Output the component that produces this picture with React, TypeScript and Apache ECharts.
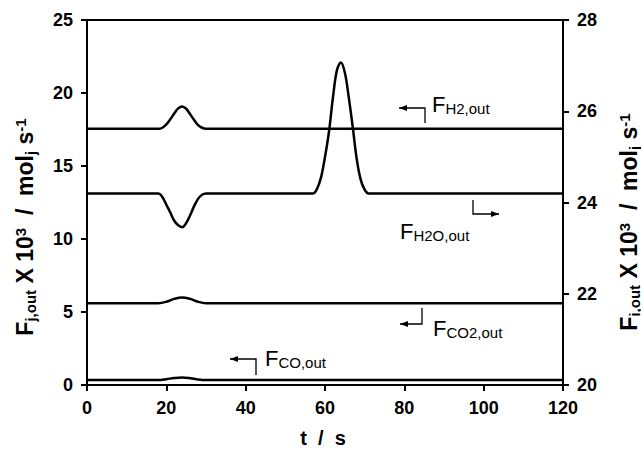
import React, { useEffect, useRef } from "react";
import * as echarts from "echarts";

// time (s) and outlet flows (x10^3 mol/s)
const tH2 = [0, 18, 19, 20, 21, 22, 23, 24, 25, 26, 27, 28, 29, 30, 120];
const vH2 = [17.55, 17.55, 17.62, 17.85, 18.2, 18.6, 18.95, 19.08, 18.92, 18.55, 18.15, 17.8, 17.62, 17.55, 17.55];

const tH2O = [0, 18, 19, 20, 21, 22, 23, 24, 25, 26, 27, 28, 29, 30, 57, 58, 59, 60, 61, 62, 63, 64, 65, 66, 67, 68, 69, 70, 71, 120];
const vH2O = [24.2, 24.2, 24.12, 23.95, 23.78, 23.6, 23.5, 23.46, 23.55, 23.72, 23.92, 24.08, 24.17, 24.2, 24.2, 24.3, 24.55, 25.0, 25.55, 26.3, 26.9, 27.07, 26.85, 26.3, 25.65, 24.95, 24.5, 24.28, 24.2, 24.2];

const tCO2 = [0, 18, 20, 22, 24, 26, 28, 30, 120];
const vCO2 = [5.6, 5.6, 5.7, 5.9, 6.0, 5.9, 5.7, 5.6, 5.6];

const tCO = [0, 18, 20, 22, 24, 26, 28, 30, 120];
const vCO = [0.34, 0.34, 0.4, 0.48, 0.52, 0.47, 0.38, 0.34, 0.34];

const xTicks = { min: 0, max: 120, interval: 20 };
const leftTicks = { min: 0, max: 25, interval: 5 };
const rightTicks = { min: 20, max: 28, interval: 2 };

const FONT = "'Liberation Sans', Arial, sans-serif";

const pair = (t: number[], v: number[]) => t.map((x, i) => [x, v[i]]);

const richStyle = (big: number, small: number, bold: string) => ({
  b: { fontSize: big, fontWeight: bold, fontFamily: FONT, fill: "#000", lineHeight: big + 2 },
  s: { fontSize: small, fontWeight: bold, fontFamily: FONT, fill: "#000", lineHeight: small, verticalAlign: "bottom" },
  p: { fontSize: small, fontWeight: bold, fontFamily: FONT, fill: "#000", lineHeight: small, verticalAlign: "top" },
});

function label(x: number, y: number, sub: string) {
  return {
    type: "text",
    x,
    y,
    style: {
      text: `{b|F}{s|${sub}}`,
      rich: richStyle(22, 15, "normal"),
      align: "left",
      verticalAlign: "middle",
    },
  };
}

function arrow(points: number[][], headLeft: boolean) {
  const last = points[points.length - 1];
  const [hx, hy] = last;
  const d = headLeft ? 8 : -8;
  return [
    { type: "polyline", shape: { points }, style: { stroke: "#000", lineWidth: 1.3, fill: null } },
    {
      type: "polygon",
      shape: { points: [[hx, hy], [hx + d, hy - 3], [hx + d, hy + 3]] },
      style: { fill: "#000" },
    },
  ];
}

export default function App() {
  const ref = useRef<HTMLDivElement>(null);
  useEffect(() => {
    if (!ref.current) return;
    const chart = echarts.init(ref.current, null, { renderer: "svg" });
    const axisLabel = { color: "#000", fontSize: 18, fontWeight: "bold", fontFamily: FONT };
    const lineSeries = (name: string, data: number[][], yAxisIndex: number) => ({
      name,
      type: "line",
      data,
      yAxisIndex,
      showSymbol: false,
      smooth: 0.35,
      lineStyle: { color: "#000", width: 2.5 },
    });
    chart.setOption({
      animation: false,
      backgroundColor: "#fff",
      grid: {
        left: 87,
        right: 78,
        top: 20,
        bottom: 65,
        show: true,
        borderColor: "#000",
        borderWidth: 2,
        containLabel: false,
        outerBoundsMode: "none",
      },
      xAxis: {
        type: "value",
        ...xTicks,
        axisLine: { show: true, lineStyle: { color: "#000", width: 2 } },
        axisTick: { show: true, length: 6, lineStyle: { color: "#000", width: 2 } },
        axisLabel: { ...axisLabel, margin: 14 },
        splitLine: { show: false },
      },
      yAxis: [
        {
          type: "value",
          ...leftTicks,
          position: "left",
          axisLine: { show: true, lineStyle: { color: "#000", width: 2 } },
          axisTick: { show: true, length: 6, lineStyle: { color: "#000", width: 2 } },
          axisLabel: { ...axisLabel, margin: 14 },
          splitLine: { show: false },
        },
        {
          type: "value",
          ...rightTicks,
          position: "right",
          axisLine: { show: true, lineStyle: { color: "#000", width: 2 } },
          axisTick: { show: true, length: 6, lineStyle: { color: "#000", width: 2 } },
          axisLabel: { ...axisLabel, margin: 14 },
          splitLine: { show: false },
        },
      ],
      series: [
        lineSeries("H2", pair(tH2, vH2), 0),
        lineSeries("H2O", pair(tH2O, vH2O), 1),
        lineSeries("CO2", pair(tCO2, vCO2), 0),
        lineSeries("CO", pair(tCO, vCO), 0),
      ],
      graphic: [
        // axis titles
        {
          type: "text",
          x: 25,
          y: 227,
          rotation: Math.PI / 2,
          style: {
            text: "{b|F}{s|j,out}{b| X 10}{p|3}{b|  /  mol}{s|j}{b| s}{p|-1}",
            rich: richStyle(23, 15, "bold"),
            align: "center",
            verticalAlign: "middle",
          },
        },
        {
          type: "text",
          x: 629,
          y: 222,
          rotation: Math.PI / 2,
          style: {
            text: "{b|F}{s|i,out}{b| X 10}{p|3}{b|  /  mol}{s|j}{b| s}{p|-1}",
            rich: richStyle(23, 15, "bold"),
            align: "center",
            verticalAlign: "middle",
          },
        },
        {
          type: "text",
          x: 323,
          y: 438,
          style: {
            text: "t  /  s",
            fontSize: 20,
            fontWeight: "bold",
            fontFamily: FONT,
            fill: "#000",
            align: "center",
            verticalAlign: "middle",
          },
        },
        // annotations
        ...arrow([[425, 123], [425, 108], [399, 108]], true),
        label(432, 104, "H2,out"),
        ...arrow([[473, 200], [473, 214], [499, 214]], false),
        label(400, 231, "H2O,out"),
        ...arrow([[422, 308], [422, 324], [400, 324]], true),
        label(433, 328, "CO2,out"),
        ...arrow([[256, 375], [256, 359], [230, 359]], true),
        label(265, 358, "CO,out"),
      ],
    });
    return () => chart.dispose();
  }, []);
  return (
    <div
      ref={ref}
      style={{ position: "absolute", left: 0, top: 0, width: 641, height: 450 }}
    />
  );
}
